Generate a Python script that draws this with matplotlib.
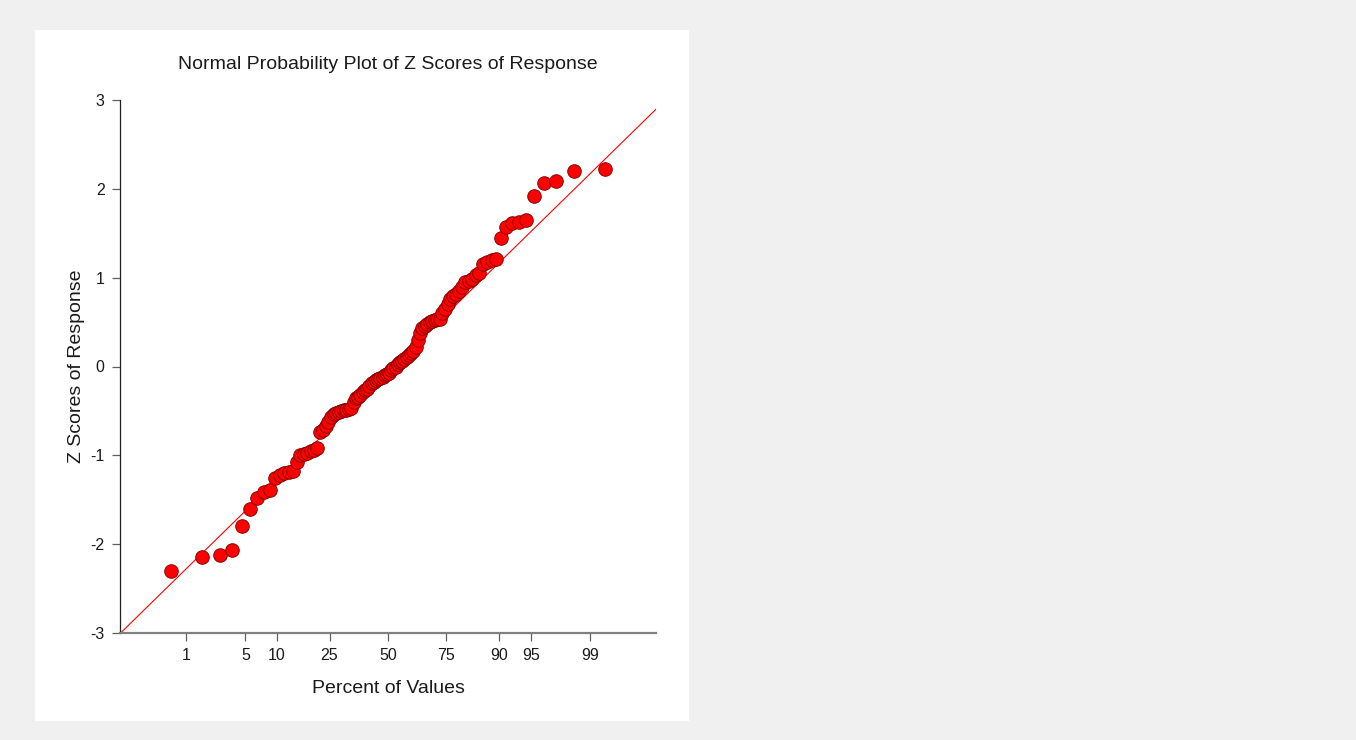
# Normal probability plot of the z scores of the response
from statistics import NormalDist
import numpy as np
import matplotlib.pyplot as plt
from matplotlib.patches import Rectangle

# sorted z scores of the response (100 observations)
z_scores = [
    -2.30, -2.14, -2.12, -2.07, -1.80, -1.60, -1.48, -1.41, -1.39, -1.25,
    -1.22, -1.20, -1.19, -1.18, -1.07, -1.00, -0.98, -0.97, -0.95, -0.94,
    -0.92, -0.74, -0.72, -0.67, -0.62, -0.57, -0.53, -0.52, -0.51, -0.50,
    -0.495, -0.49, -0.48, -0.47, -0.40, -0.36, -0.34, -0.32, -0.29, -0.27,
    -0.25, -0.22, -0.19, -0.17, -0.15, -0.14, -0.13, -0.115, -0.10, -0.08,
    -0.07, -0.045, -0.02, 0.00, 0.03, 0.05, 0.065, 0.08, 0.11, 0.13,
    0.15, 0.17, 0.22, 0.30, 0.38, 0.43, 0.46, 0.48, 0.50, 0.51,
    0.52, 0.53, 0.54, 0.60, 0.65, 0.70, 0.76, 0.79, 0.82, 0.85,
    0.89, 0.95, 0.96, 0.98, 1.03, 1.05, 1.15, 1.18, 1.20, 1.21,
    1.45, 1.57, 1.62, 1.63, 1.65, 1.92, 2.07, 2.09, 2.20, 2.22,
]

# reference line (intercept, slope)
line_a = -0.055
line_b = 0.955

pct_ticks = [1, 5, 10, 25, 50, 75, 90, 95, 99]
y_ticks = [-3, -2, -1, 0, 1, 2, 3]

nd = NormalDist()
n = len(z_scores)
# Blom plotting positions -> expected normal quantiles
expected = [nd.inv_cdf((i - 0.375) / (n + 0.25)) for i in range(1, n + 1)]

plt.rcParams['font.family'] = ['Liberation Sans', 'DejaVu Sans']
plt.rcParams['axes.unicode_minus'] = False
fig = plt.figure(figsize=(13.56, 7.40), dpi=100, facecolor='#f0f0f0')

# white panel behind the chart
fig.patches.append(Rectangle((35 / 1356, 19 / 740), 654 / 1356, 691 / 740,
                             transform=fig.transFigure, facecolor='white',
                             edgecolor='none', zorder=-10))

ax = fig.add_axes([120 / 1356, 1 - 633 / 740, 536 / 1356, 533 / 740])
ax.set_zorder(1)
ax.set_facecolor('white')

x_lo = nd.inv_cdf(0.001)
x_hi = nd.inv_cdf(0.999)
ax.set_xlim(x_lo, x_hi)
ax.set_ylim(-3, 3)

xs = np.array([x_lo, x_hi])
ax.plot(xs, line_a + line_b * xs, color='#ff0000', lw=0.8, zorder=2)
ax.scatter(expected, z_scores, s=95, c='#ff0000', edgecolors='#8b0000',
           linewidths=0.7, zorder=3, clip_on=False)

ax.set_xticks([nd.inv_cdf(p / 100) for p in pct_ticks])
ax.set_xticklabels([str(p) for p in pct_ticks])
ax.set_yticks(y_ticks)

for s in ['top', 'right']:
    ax.spines[s].set_visible(False)
ax.spines['left'].set_color('#202020')
ax.spines['left'].set_linewidth(0.9)
ax.spines['bottom'].set_color('#808080')
ax.spines['bottom'].set_linewidth(1.6)
ax.tick_params(axis='both', direction='out', length=6, width=0.9,
               colors='#606060', labelcolor='#1a1a1a', labelsize=11.5, pad=5)
ax.tick_params(axis='x', pad=5)

ax.set_title('Normal Probability Plot of Z Scores of Response',
             fontsize=14, color='#1a1a1a', pad=22)
ax.set_xlabel('Percent of Values', fontsize=14, color='#1a1a1a', labelpad=12)
ax.set_ylabel('Z Scores of Response', fontsize=14, color='#1a1a1a', labelpad=4)

fig.savefig('out.png', dpi=100, facecolor=fig.get_facecolor())
